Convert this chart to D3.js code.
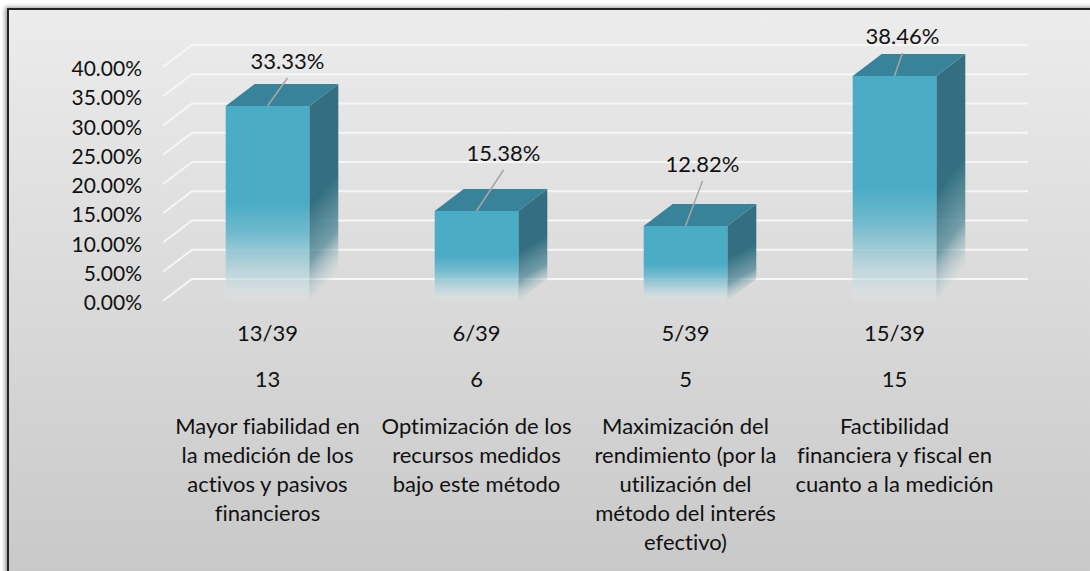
<!DOCTYPE html>
<html>
<head>
<meta charset="utf-8">
<script src="https://cdn.jsdelivr.net/npm/d3@7"></script>
<style>
	body { margin: 0; background: #fff; }
	svg text { font-family: Lato, "Open Sans", sans-serif; fill: #111; font-variant-ligatures: none; }
</style>
</head>
<body>
<div id="chart"></div>
<script>

// data
var categories = [
	["Mayor fiabilidad en", "la medición de los", "activos y pasivos", "financieros"],
	["Optimización de los", "recursos medidos", "bajo este método"],
	["Maximización del", "rendimiento (por la", "utilización del", "método del interés", "efectivo)"],
	["Factibilidad", "financiera y fiscal en", "cuanto a la medición"]
];
var counts = [13, 6, 5, 15];
var fractions = ["13/39", "6/39", "5/39", "15/39"];
var percents = [0.3333, 0.1538, 0.1282, 0.3846];
var yTicks = [0, 0.05, 0.10, 0.15, 0.20, 0.25, 0.30, 0.35, 0.40];

// hand placed data labels (nudges from bar top centre), like in the original
var labelNudge = [[20, -45], [27, -58], [17, -62], [8, -40]];

var chart = {
	width: 1090,
	height: 571,
	floor: { left: 163, right: 999, front: 301, top: 67 },
	depth: { dx: 29, dy: -22 },
	axisFont: 21,
	fontSize: 22
};

var table = categories.map(function (c, i) {
	return { id: i, lines: c, count: counts[i], fraction: fractions[i], value: percents[i] };
});

var svg = d3.select('#chart')
	.append('svg')
	.attr('width', chart.width)
	.attr('height', chart.height);

var defs = svg.append('defs');

var bg = defs.append('linearGradient')
	.attr('id', 'bg')
	.attr('x1', 0).attr('y1', 0).attr('x2', 0).attr('y2', 1);
bg.append('stop').attr('offset', 0).attr('stop-color', '#ececec');
bg.append('stop').attr('offset', 1).attr('stop-color', '#c0c0c0');

var front = defs.append('linearGradient')
	.attr('id', 'front')
	.attr('x1', 0).attr('y1', 0).attr('x2', 0).attr('y2', 1);
[[0, '#4bacc6', 1], [0.5, '#4bacc6', 1], [0.65, '#6ab8cc', 0.95], [0.8, '#9ecbd7', 0.8], [0.92, '#c6dde3', 0.55], [1, '#e2eaec', 0.1]]
	.forEach(function (s) {
		front.append('stop').attr('offset', s[0]).attr('stop-color', s[1]).attr('stop-opacity', s[2]);
	});

var side = defs.append('linearGradient')
	.attr('id', 'side')
	.attr('x1', 0).attr('y1', 0).attr('x2', 0.15).attr('y2', 1);
[[0, '#336f80', 1], [0.55, '#336f80', 1], [0.8, '#4f8796', 0.75], [0.95, '#a9c2c8', 0.3], [1, '#d0d8da', 0]]
	.forEach(function (s) {
		side.append('stop').attr('offset', s[0]).attr('stop-color', s[1]).attr('stop-opacity', s[2]);
	});

var shadow = defs.append('filter').attr('id', 'shadow')
	.attr('x', '-5%').attr('y', '-5%').attr('width', '110%').attr('height', '110%');
shadow.append('feGaussianBlur').attr('stdDeviation', 2);

// frame
svg.append('rect')
	.attr('x', 5).attr('y', 7)
	.attr('width', 1200).attr('height', 700)
	.attr('fill', '#999')
	.attr('filter', 'url(#shadow)');

svg.append('rect')
	.attr('x', 8).attr('y', 9)
	.attr('width', 1200).attr('height', 700)
	.attr('fill', 'url(#bg)')
	.style('stroke', '#222')
	.attr('stroke-width', 2);

var xScale = d3.scaleBand()
	.domain(table.map(function (d) { return d.id; }))
	.range([chart.floor.left, chart.floor.right])
	.paddingInner(0.6)
	.paddingOuter(0.3);

var yScale = d3.scaleLinear()
	.domain([0, 0.40])
	.range([chart.floor.front, chart.floor.top]);

var dx = chart.depth.dx, dy = chart.depth.dy;
var g = svg.append('g');

// 3d grid: diagonal on the side wall plus line on the back wall
var grid = g.append('g').attr('class', 'grid');
yTicks.forEach(function (t) {
	var y = yScale(t);
	grid.append('path')
		.attr('d', 'M' + chart.floor.left + ',' + y + 'L' + (chart.floor.left + dx) + ',' + (y + dy) +
			'H' + (chart.floor.right + dx))
		.attr('fill', 'none')
		.style('stroke', '#f6f6f6')
		.attr('stroke-width', 2);
});

// y axis labels
var yAxis = d3.axisLeft(yScale)
	.tickValues(yTicks)
	.tickFormat(d3.format('.2%'))
	.tickSize(0)
	.tickPadding(0);

g.append('g')
	.attr('class', 'y-axis')
	.attr('transform', 'translate(142,2)')
	.call(yAxis)
	.call(function (s) { s.select('.domain').remove(); })
	.selectAll('text')
	.attr('font-size', chart.axisFont)
	.style('font-family', 'Lato, sans-serif')
	.attr('fill', '#111');

// bars
var bars = g.selectAll('.bar')
	.data(table)
	.enter().append('g')
	.attr('class', 'bar');

bars.append('path')
	.attr('d', function (d) {
		var x1 = xScale(d.id) + xScale.bandwidth(), yt = yScale(d.value), y0 = yScale(0);
		return 'M' + x1 + ',' + yt + 'L' + (x1 + dx) + ',' + (yt + dy) + 'L' + (x1 + dx) + ',' + (y0 + dy) +
			'L' + x1 + ',' + y0 + 'Z';
	})
	.attr('fill', 'url(#side)');

bars.append('path')
	.attr('d', function (d) {
		var x0 = xScale(d.id), x1 = x0 + xScale.bandwidth(), yt = yScale(d.value);
		return 'M' + x0 + ',' + yt + 'L' + (x0 + dx) + ',' + (yt + dy) + 'L' + (x1 + dx) + ',' + (yt + dy) +
			'L' + x1 + ',' + yt + 'Z';
	})
	.attr('fill', '#38829a');

bars.append('rect')
	.attr('x', function (d) { return xScale(d.id); })
	.attr('y', function (d) { return yScale(d.value); })
	.attr('width', xScale.bandwidth())
	.attr('height', function (d) { return yScale(0) - yScale(d.value); })
	.attr('fill', 'url(#front)');

// data labels with leader lines
bars.each(function (d) {
	var cx = xScale(d.id) + xScale.bandwidth() / 2, yt = yScale(d.value);
	var lx = cx + labelNudge[d.id][0], ly = yt + labelNudge[d.id][1];
	var el = d3.select(this);
	el.append('line')
		.attr('x1', cx).attr('y1', yt)
		.attr('x2', lx).attr('y2', ly + 17)
		.style('stroke', '#a6a6a6')
		.attr('stroke-width', 1.5);
	el.append('text')
		.attr('x', lx).attr('y', ly)
		.attr('dy', '0.35em')
		.attr('text-anchor', 'middle')
		.attr('font-size', chart.fontSize)
		.text(d3.format('.2%')(d.value));
});

// category rows: fraction, count, wrapped name
var cats = g.selectAll('.cat')
	.data(table)
	.enter().append('text')
	.attr('class', 'cat')
	.attr('text-anchor', 'middle')
	.attr('font-size', chart.fontSize)
	.attr('transform', function (d) {
		return 'translate(' + (xScale(d.id) + xScale.bandwidth() / 2) + ',0)';
	});

cats.append('tspan').attr('x', 0).attr('y', 333).attr('dy', '0.35em')
	.text(function (d) { return d.fraction; });
cats.append('tspan').attr('x', 0).attr('y', 379).attr('dy', '0.35em')
	.text(function (d) { return d.count; });
cats.each(function (d) {
	var t = d3.select(this);
	d.lines.forEach(function (line, i) {
		t.append('tspan').attr('x', 0).attr('y', 426 + i * 29).attr('dy', '0.35em').text(line);
	});
});

</script>
</body>
</html>
